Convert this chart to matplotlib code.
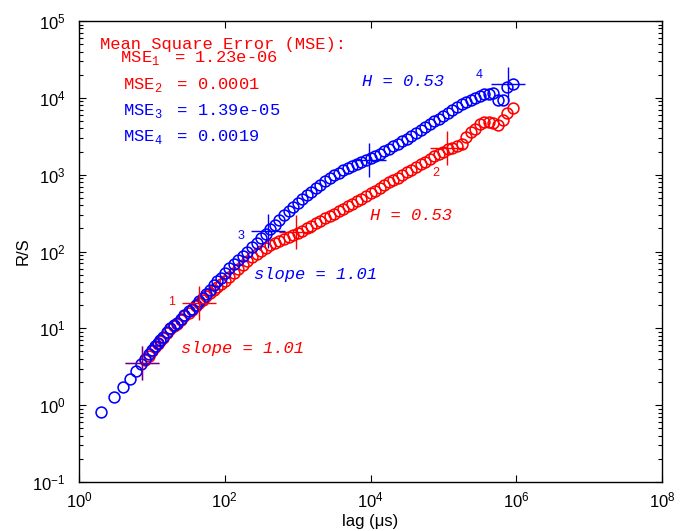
import numpy as np
import matplotlib
matplotlib.use('Agg')
import matplotlib.pyplot as plt
from matplotlib.ticker import FixedLocator, LogLocator, NullLocator, NullFormatter

plt.rcParams['font.family'] = ['Liberation Sans', 'DejaVu Sans']
plt.rcParams['mathtext.fontset'] = 'custom'
plt.rcParams['mathtext.rm'] = 'Liberation Sans'

# ---------------- data ----------------
lags = [2, 3, 4, 5, 6, 7,
        8, 9, 10, 11, 12, 13, 14, 16, 18, 20, 22, 25, 28, 32, 35, 40, 45, 50, 56, 63, 71, 79, 89,
        100, 115, 133, 154, 178, 205, 237, 274, 316, 365, 422, 487, 562, 649, 750, 866,
        1000, 1155, 1334, 1540, 1778, 2054, 2371, 2738, 3162, 3652, 4217, 4870, 5623, 6494, 7499, 8660,
        10000, 11548, 13335, 15399, 17783, 20535, 23714, 27384, 31623, 36517, 42170, 48697, 56234, 64938, 74989, 86596,
        100000, 115478, 133352, 153993, 177828, 205353, 237137, 273842, 316228, 365174, 421697, 486968, 562341, 649382, 749894, 900000]

# log10(R/S), series 2 (blue)
log_rs_blue = [-0.09, 0.108, 0.238, 0.347, 0.44, 0.53,
               0.60, 0.66, 0.715, 0.77, 0.81, 0.85, 0.885, 0.95, 1.00, 1.04, 1.075, 1.125, 1.17, 1.22, 1.255, 1.305,
               1.355, 1.40, 1.45, 1.505, 1.56, 1.61, 1.66,
               1.72, 1.78, 1.84, 1.895, 1.945, 1.995, 2.055, 2.115, 2.17, 2.23, 2.29, 2.35, 2.41, 2.47, 2.53, 2.585,
               2.635, 2.685, 2.73, 2.78, 2.825, 2.87, 2.915, 2.955, 2.99, 3.025, 3.06, 3.09, 3.115, 3.14, 3.165, 3.19,
               3.215, 3.245, 3.275, 3.305, 3.34, 3.37, 3.40, 3.435, 3.465, 3.505, 3.54, 3.575, 3.615, 3.655, 3.695, 3.73,
               3.77, 3.805, 3.84, 3.885, 3.92, 3.945, 3.975, 4.00, 4.03, 4.045, 4.055, 4.06, 3.975, 3.975, 4.14, 4.175]

# log10(R/S), series 1 (red), starts at lag 8
red_start = 6
log_rs_red = [0.59, 0.645, 0.70, 0.755, 0.795, 0.84, 0.87, 0.935, 0.985, 1.025, 1.06, 1.11, 1.155, 1.205, 1.24,
              1.285, 1.33, 1.37, 1.415, 1.455, 1.50, 1.535, 1.575,
              1.615, 1.67, 1.72, 1.775, 1.825, 1.88, 1.925, 1.97, 2.01, 2.05, 2.085, 2.115, 2.14, 2.165, 2.19, 2.215,
              2.24, 2.27, 2.30, 2.335, 2.365, 2.40, 2.43, 2.46, 2.49, 2.525, 2.555, 2.59, 2.62, 2.655, 2.685, 2.72,
              2.755, 2.79, 2.83, 2.87, 2.905, 2.93, 2.96, 2.99, 3.03, 3.065, 3.10, 3.14, 3.17, 3.205, 3.24, 3.27,
              3.30, 3.33, 3.35, 3.37, 3.40, 3.49, 3.56, 3.60, 3.66, 3.68, 3.69, 3.67, 3.65, 3.71, 3.80, 3.87]

# fit end points (crosses)
start_lag, start_rs = 7.3, 3.5
red_fit_lag = [44.3, 948, 112700]
red_fit_rs = [21.1, 177, 2222]
blue_fit_lag = [397, 9500, 767000]
blue_fit_rs = [184, 1567, 15200]

mse_labels = ['1.23e-06', '0.0001', '1.39e-05', '0.0019']

# ---------------- figure ----------------
W, H = 681, 531
fig = plt.figure(figsize=(W / 100, H / 100), dpi=100)
ax = fig.add_axes([79 / W, 1 - 482 / H, (662 - 79) / W, (482 - 21) / H])

RED = '#ff0000'
BLUE = '#0000ff'

lag_arr = np.array(lags, dtype=float)
ax.plot(lag_arr[red_start:], 10 ** np.array(log_rs_red), 'o', ms=7.8, mfc='none',
        mec=RED, mew=1.15, ls='none')
ax.plot(lag_arr, 10 ** np.array(log_rs_blue), 'o', ms=7.8, mfc='none',
        mec=BLUE, mew=1.15, ls='none')

# crosses
ax.plot([start_lag], [start_rs], '+', ms=25, mew=1.0, color=RED)
ax.plot([start_lag], [start_rs], '+', ms=25, mew=1.0, color=BLUE, alpha=0.6)
ax.plot(red_fit_lag, red_fit_rs, '+', ms=25, mew=1.0, color=RED, ls='none')
ax.plot(blue_fit_lag, blue_fit_rs, '+', ms=25, mew=1.0, color=BLUE, ls='none')

ax.set_xscale('log')
ax.set_yscale('log')
ax.set_xlim(1, 1e8)
ax.set_ylim(1e-1, 1e5)

xt = [1e0, 1e2, 1e4, 1e6, 1e8]
yt = [1e-1, 1e0, 1e1, 1e2, 1e3, 1e4, 1e5]
ax.xaxis.set_major_locator(FixedLocator(xt))
ax.xaxis.set_minor_locator(NullLocator())
ax.yaxis.set_major_locator(FixedLocator(yt))
ax.yaxis.set_minor_locator(LogLocator(base=10, subs=np.arange(2, 10), numticks=20))
ax.yaxis.set_minor_formatter(NullFormatter())

def fmt(v):
    e = int(round(np.log10(v)))
    return r'$\mathregular{10^{%d}}$' % e

ax.set_xticklabels([fmt(v) for v in xt])
ax.set_yticklabels([fmt(v) for v in yt])

ax.tick_params(which='both', direction='in', top=True, right=True, labelsize=12, width=0.8)
ax.tick_params(which='major', length=5)
ax.tick_params(axis='x', which='major', pad=6)
ax.tick_params(axis='y', which='major', pad=9.5)
ax.tick_params(which='minor', length=3)
for s in ax.spines.values():
    s.set_linewidth(1.0)

ax.set_xlabel('lag (μs)', fontsize=12, labelpad=3)
ax.set_ylabel('R/S', fontsize=12, labelpad=1)

def ftext(x, y, s, **kw):
    return fig.text(x / W, 1 - y / H, s, **kw)

# small numbered labels near crosses
ftext(172, 302, '1', color=RED, fontsize=9, ha='center', va='center')
ftext(436, 173, '2', color=RED, fontsize=9, ha='center', va='center')
ftext(241, 236, '3', color=BLUE, fontsize=9, ha='center', va='center')
ftext(479, 75, '4', color=BLUE, fontsize=9, ha='center', va='center')

mono = ['Liberation Mono', 'DejaVu Sans Mono']
FS = 12.3

def mse_line(i):
    return r'MSE$_{\mathregular{%d}}\;$ = %s' % (i + 1, mse_labels[i])

# title plus the first MSE line share one text block
ftext(100, 37, 'Mean Square Error (MSE):\n  ' + mse_line(0), color=RED, fontsize=FS,
      family=mono, ha='left', va='top', linespacing=0.8)
mse_pos = [(123, 83, RED), (123, 109, BLUE), (123, 135, BLUE)]
for i, (x, y, c) in enumerate(mse_pos, start=1):
    ftext(x, y, mse_line(i), color=c, fontsize=FS, family=mono, ha='left', va='center_baseline')

ftext(362, 81, 'H = 0.53', color=BLUE, fontsize=FS, family=mono, style='italic', ha='left', va='center')
ftext(370, 215, 'H = 0.53', color=RED, fontsize=FS, family=mono, style='italic', ha='left', va='center')
ftext(254, 275, 'slope = 1.01', color=BLUE, fontsize=FS, family=mono, style='italic', ha='left', va='center')
ftext(181, 349, 'slope = 1.01', color=RED, fontsize=FS, family=mono, style='italic', ha='left', va='center')

fig.savefig('out.png', dpi=100)
